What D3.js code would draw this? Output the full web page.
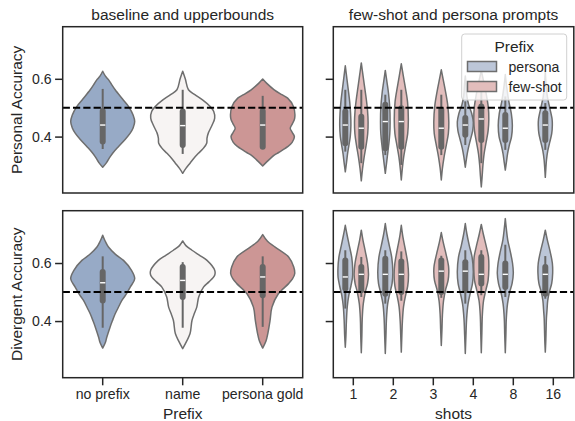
<!DOCTYPE html>
<html><head><meta charset="utf-8">
<script src="https://cdn.jsdelivr.net/npm/d3@7"></script>
<style>
body{margin:0;background:#fff}
svg{display:block}
text{font-family:"Liberation Sans",Arial,sans-serif;fill:#262626}
</style>
</head><body>
<svg id="chart" width="575" height="421"></svg>
<script>
// ---------------- DATA ----------------
const baselineCats = ["no prefix", "name", "persona gold"];
const shotCats = ["1", "2", "3", "4", "8", "16"];
const prefixHues = ["persona", "few-shot"];
const yTicks = [0.4, 0.6];
const chanceLevel = 0.5;

// violin outlines: [accuracy, relative density width]
const personalBaselineProfiles = [
  [[0.626,0],[0.61,0.08],[0.597,0.18],[0.58,0.28],[0.562,0.39],[0.53,0.62],[0.504,0.81],[0.475,0.95],[0.452,1.0],[0.43,0.95],[0.412,0.86],[0.39,0.7],[0.365,0.49],[0.345,0.33],[0.33,0.23],[0.31,0.12],[0.294,0]],
  [[0.626,0],[0.60,0.08],[0.562,0.18],[0.545,0.38],[0.527,0.62],[0.505,0.85],[0.487,0.97],[0.464,1.0],[0.44,0.92],[0.412,0.8],[0.395,0.76],[0.377,0.75],[0.36,0.65],[0.342,0.49],[0.325,0.35],[0.308,0.23],[0.29,0.1],[0.273,0]],
  [[0.599,0],[0.585,0.12],[0.562,0.36],[0.545,0.6],[0.533,0.78],[0.504,0.96],[0.464,1.0],[0.445,0.93],[0.429,0.86],[0.415,0.92],[0.4,0.99],[0.38,0.92],[0.365,0.78],[0.345,0.5],[0.336,0.36],[0.315,0.15],[0.298,0]]
];
const divergentBaselineProfiles = [
  [[0.696,0],[0.675,0.08],[0.655,0.18],[0.63,0.4],[0.609,0.65],[0.575,0.9],[0.546,1.0],[0.517,0.86],[0.49,0.72],[0.471,0.6],[0.445,0.48],[0.425,0.39],[0.4,0.3],[0.379,0.23],[0.345,0.13],[0.325,0.08],[0.307,0]],
  [[0.676,0],[0.66,0.1],[0.644,0.29],[0.625,0.55],[0.609,0.76],[0.575,1.0],[0.558,1.0],[0.535,0.82],[0.517,0.65],[0.483,0.5],[0.448,0.44],[0.425,0.36],[0.402,0.29],[0.357,0.23],[0.33,0.12],[0.305,0]],
  [[0.698,0],[0.675,0.15],[0.655,0.39],[0.621,0.81],[0.586,0.97],[0.563,1.0],[0.545,0.93],[0.529,0.81],[0.494,0.49],[0.448,0.29],[0.402,0.23],[0.357,0.16],[0.33,0.1],[0.307,0]]
];
// inner box: [lower whisker, q1, median, q3, upper whisker]
const personalBaselineBoxes = [
  [0.357,0.383,0.44,0.489,0.565],
  [0.34,0.371,0.438,0.487,0.562],
  [0.357,0.365,0.44,0.489,0.541]
];
const divergentBaselineBoxes = [
  [0.377,0.471,0.532,0.569,0.623],
  [0.377,0.483,0.54,0.586,0.603],
  [0.38,0.489,0.552,0.586,0.623]
];

// few-shot / persona panels
const personalShotViolins = [
  {shot:"1", hue:"persona", box:[0.348,0.377,0.44,0.487,0.562],
   profile:[[0.645,0],[0.6,0.2],[0.56,0.38],[0.52,0.55],[0.48,0.66],[0.44,0.7],[0.4,0.62],[0.37,0.45],[0.34,0.28],[0.31,0.15],[0.278,0]]},
  {shot:"1", hue:"few-shot", box:[0.308,0.365,0.429,0.469,0.562],
   profile:[[0.655,0],[0.61,0.22],[0.57,0.42],[0.53,0.62],[0.49,0.78],[0.45,0.85],[0.41,0.8],[0.37,0.6],[0.33,0.36],[0.29,0.16],[0.247,0]]},
  {shot:"2", hue:"persona", box:[0.336,0.36,0.452,0.51,0.545],
   profile:[[0.629,0],[0.59,0.2],[0.55,0.4],[0.5,0.56],[0.45,0.6],[0.41,0.56],[0.37,0.42],[0.33,0.25],[0.3,0.12],[0.273,0]]},
  {shot:"2", hue:"few-shot", box:[0.302,0.365,0.452,0.498,0.562],
   profile:[[0.652,0],[0.61,0.25],[0.57,0.5],[0.52,0.78],[0.46,0.88],[0.41,0.8],[0.37,0.55],[0.33,0.3],[0.29,0.13],[0.25,0]]},
  {shot:"3", hue:"few-shot", box:[0.336,0.365,0.429,0.493,0.545],
   profile:[[0.631,0],[0.6,0.22],[0.56,0.5],[0.51,0.8],[0.45,0.94],[0.41,0.88],[0.37,0.62],[0.33,0.35],[0.29,0.14],[0.25,0]]},
  {shot:"4", hue:"persona", box:[0.371,0.406,0.44,0.464,0.522],
   profile:[[0.61,0],[0.58,0.1],[0.54,0.2],[0.51,0.42],[0.48,0.8],[0.45,1.0],[0.42,0.92],[0.39,0.65],[0.36,0.38],[0.33,0.18],[0.294,0]]},
  {shot:"4", hue:"few-shot", box:[0.308,0.388,0.461,0.504,0.562],
   profile:[[0.628,0],[0.59,0.3],[0.55,0.6],[0.5,0.88],[0.46,0.94],[0.42,0.85],[0.38,0.6],[0.34,0.35],[0.3,0.2],[0.26,0.1],[0.226,0]]},
  {shot:"8", hue:"persona", box:[0.354,0.388,0.429,0.475,0.539],
   profile:[[0.615,0],[0.57,0.18],[0.52,0.45],[0.48,0.75],[0.44,0.88],[0.4,0.78],[0.37,0.5],[0.34,0.28],[0.31,0.13],[0.284,0]]},
  {shot:"16", hue:"persona", box:[0.354,0.388,0.44,0.481,0.516],
   profile:[[0.627,0],[0.58,0.1],[0.54,0.25],[0.5,0.55],[0.46,0.85],[0.44,0.88],[0.41,0.8],[0.38,0.55],[0.35,0.3],[0.32,0.15],[0.29,0.07],[0.259,0]]}
];
const divergentShotViolins = [
  {shot:"1", hue:"persona", box:[0.443,0.512,0.552,0.609,0.644],
   profile:[[0.73,0],[0.7,0.2],[0.66,0.5],[0.62,0.8],[0.58,0.92],[0.55,0.9],[0.52,0.7],[0.49,0.45],[0.45,0.25],[0.4,0.14],[0.35,0.08],[0.31,0]]},
  {shot:"1", hue:"few-shot", box:[0.483,0.506,0.561,0.586,0.621],
   profile:[[0.713,0],[0.68,0.2],[0.64,0.5],[0.6,0.78],[0.56,0.9],[0.53,0.78],[0.5,0.5],[0.46,0.25],[0.41,0.12],[0.35,0.07],[0.291,0]]},
  {shot:"2", hue:"persona", box:[0.46,0.494,0.561,0.615,0.644],
   profile:[[0.736,0],[0.7,0.2],[0.66,0.5],[0.62,0.8],[0.57,0.94],[0.53,0.85],[0.5,0.6],[0.46,0.3],[0.41,0.15],[0.35,0.08],[0.288,0]]},
  {shot:"2", hue:"few-shot", box:[0.47,0.5,0.561,0.605,0.64],
   profile:[[0.73,0],[0.69,0.2],[0.65,0.48],[0.6,0.8],[0.56,0.9],[0.52,0.8],[0.49,0.55],[0.45,0.28],[0.4,0.14],[0.35,0.07],[0.293,0]]},
  {shot:"3", hue:"few-shot", box:[0.48,0.5,0.572,0.609,0.625],
   profile:[[0.705,0],[0.67,0.25],[0.63,0.6],[0.59,0.9],[0.57,0.94],[0.54,0.85],[0.51,0.55],[0.47,0.28],[0.42,0.14],[0.37,0.08],[0.316,0]]},
  {shot:"4", hue:"persona", box:[0.46,0.506,0.572,0.603,0.644],
   profile:[[0.736,0],[0.7,0.2],[0.66,0.5],[0.62,0.85],[0.57,1.0],[0.53,0.9],[0.5,0.65],[0.46,0.35],[0.41,0.17],[0.35,0.08],[0.288,0]]},
  {shot:"4", hue:"few-shot", box:[0.489,0.529,0.561,0.621,0.644],
   profile:[[0.733,0],[0.7,0.25],[0.66,0.6],[0.62,0.9],[0.58,0.94],[0.54,0.85],[0.51,0.6],[0.47,0.28],[0.42,0.13],[0.36,0.07],[0.291,0]]},
  {shot:"8", hue:"persona", box:[0.483,0.517,0.561,0.598,0.663],
   profile:[[0.753,0],[0.72,0.12],[0.68,0.3],[0.64,0.62],[0.6,0.9],[0.565,1.0],[0.53,0.85],[0.5,0.55],[0.46,0.28],[0.41,0.13],[0.35,0.07],[0.291,0]]},
  {shot:"16", hue:"persona", box:[0.477,0.494,0.561,0.586,0.624],
   profile:[[0.713,0],[0.68,0.25],[0.64,0.6],[0.6,0.88],[0.565,0.92],[0.53,0.8],[0.5,0.5],[0.47,0.3],[0.44,0.22],[0.41,0.14],[0.37,0.1],[0.33,0.06],[0.293,0]]}
];

const baselineColors = ["#97aac6", "#f7f4f3", "#cc9695"];
const hueColors = {"persona": "#bcc6d8", "few-shot": "#e2bdbc"};

// ---------------- LAYOUT ----------------
const svg = d3.select("#chart");
const cols = [{x0: 62.7, x1: 302.7}, {x0: 333.3, x1: 573.8}];
const rows = [{y0: 26.7, y1: 193}, {y0: 210.7, y1: 377.7}];
const yDomain = [0.2048, 0.7803];
const edge = "#6e6e6e";
const tickLen = 7.6, tickPad = 3.4;
const labelSize = "15.5px", tickSize = "14.1px";

function drawViolin(g, cx, halfW, profile, box, fill, y) {
  const area = d3.area()
    .curve(d3.curveCatmullRom.alpha(0.5))
    .y(d => y(d[0]))
    .x0(d => cx - halfW * d[1])
    .x1(d => cx + halfW * d[1]);
  g.append("path").attr("d", area(profile))
    .attr("fill", fill).attr("stroke", edge).attr("stroke-width", 1.5)
    .attr("stroke-linejoin", "round");
  const [wlo, q1, med, q3, whi] = box;
  g.append("line").attr("x1", cx).attr("x2", cx).attr("y1", y(wlo)).attr("y2", y(whi))
    .attr("stroke", "#666").attr("stroke-width", 2);
  g.append("line").attr("x1", cx).attr("x2", cx).attr("y1", y(q1)).attr("y2", y(q3))
    .attr("stroke", "#666").attr("stroke-width", 6).attr("stroke-linecap", "round");
  g.append("line").attr("x1", cx - 2.6).attr("x2", cx + 2.6).attr("y1", y(med)).attr("y2", y(med))
    .attr("stroke", "#fff").attr("stroke-width", 1.4);
}

function styleAxis(ax) {
  ax.select(".domain").remove();
  ax.selectAll(".tick line").attr("stroke", "#262626").attr("stroke-width", 1.5);
  ax.selectAll(".tick text").style("font-size", tickSize).attr("fill", "#262626")
    .style("font-family", "'Liberation Sans', Arial, sans-serif");
}

rows.forEach((row, ri) => {
  const y = d3.scaleLinear().domain(yDomain).range([row.y1, row.y0]);
  const isBottom = ri === 1;

  // ---- left panel (baseline) ----
  const xl = d3.scaleBand().domain(baselineCats).range([cols[0].x0, cols[0].x1]).padding(0);
  const gl = svg.append("g");
  const profiles = ri === 0 ? personalBaselineProfiles : divergentBaselineProfiles;
  const boxes = ri === 0 ? personalBaselineBoxes : divergentBaselineBoxes;
  baselineCats.forEach((c, i) => {
    drawViolin(gl, xl(c) + xl.bandwidth() / 2, xl.bandwidth() * 0.4, profiles[i], boxes[i], baselineColors[i], y);
  });

  // ---- right panel (shots) ----
  const xr = d3.scaleBand().domain(shotCats).range([cols[1].x0, cols[1].x1 - 0.5]).padding(0);
  const xh = d3.scaleBand().domain(prefixHues).range([xr.bandwidth() * 0.1, xr.bandwidth() * 0.9]);
  const gr = svg.append("g");
  const vs = ri === 0 ? personalShotViolins : divergentShotViolins;
  vs.forEach(v => {
    const cx = xr(v.shot) + xh(v.hue) + xh.bandwidth() / 2;
    drawViolin(gr, cx, xh.bandwidth() / 2, v.profile, v.box, hueColors[v.hue], y);
  });

  // dashed chance line and frames
  cols.forEach((col, ci) => {
    svg.append("line").attr("x1", col.x0).attr("x2", col.x1)
      .attr("y1", y(chanceLevel)).attr("y2", y(chanceLevel))
      .attr("stroke", "#000").attr("stroke-width", 1.9).attr("stroke-dasharray", "7.2,3.1");
    svg.append("rect").attr("x", col.x0).attr("y", row.y0)
      .attr("width", col.x1 - col.x0).attr("height", row.y1 - row.y0)
      .attr("fill", "none").attr("stroke", "#262626").attr("stroke-width", 1.5);
    const ay = svg.append("g").attr("transform", `translate(${col.x0},0)`)
      .call(d3.axisLeft(y).tickValues(yTicks).tickSize(tickLen).tickPadding(tickPad)
        .tickFormat(ci === 0 ? d3.format(".1f") : () => ""));
    styleAxis(ay);
  });

  if (isBottom) {
    const axl = svg.append("g").attr("transform", `translate(0,${row.y1})`)
      .call(d3.axisBottom(xl).tickSize(tickLen).tickPadding(tickPad));
    styleAxis(axl);
    const axr = svg.append("g").attr("transform", `translate(0,${row.y1})`)
      .call(d3.axisBottom(xr).tickSize(tickLen).tickPadding(tickPad));
    styleAxis(axr);
  }

  // y label
  svg.append("text")
    .attr("transform", `translate(22,${(row.y0 + row.y1) / 2}) rotate(-90)`)
    .attr("text-anchor", "middle").style("font-size", labelSize)
    .text(ri === 0 ? "Personal Accuracy" : "Divergent Accuracy");
});

// titles
svg.append("text").attr("x", (cols[0].x0 + cols[0].x1) / 2).attr("y", 19.5)
  .attr("text-anchor", "middle").style("font-size", labelSize).text("baseline and upperbounds");
svg.append("text").attr("x", (cols[1].x0 + cols[1].x1) / 2).attr("y", 19.5)
  .attr("text-anchor", "middle").style("font-size", labelSize).text("few-shot and persona prompts");
// x labels
svg.append("text").attr("x", (cols[0].x0 + cols[0].x1) / 2).attr("y", 419.3)
  .attr("text-anchor", "middle").style("font-size", labelSize).text("Prefix");
svg.append("text").attr("x", (cols[1].x0 + cols[1].x1) / 2).attr("y", 419.3)
  .attr("text-anchor", "middle").style("font-size", labelSize).text("shots");

// legend
const lg = svg.append("g");
lg.append("rect").attr("x", 461.7).attr("y", 34).attr("width", 105).attr("height", 66)
  .attr("rx", 3).attr("fill", "#fff").attr("fill-opacity", 0.8)
  .attr("stroke", "#d0d0d0").attr("stroke-width", 1);
lg.append("text").attr("x", 514.2).attr("y", 51.5).attr("text-anchor", "middle")
  .style("font-size", labelSize).text("Prefix");
prefixHues.forEach((h, i) => {
  const yy = 61.5 + i * 20;
  lg.append("rect").attr("x", 467.5).attr("y", yy).attr("width", 29).attr("height", 10)
    .attr("fill", hueColors[h]).attr("stroke", edge).attr("stroke-width", 1.5);
  lg.append("text").attr("x", 508.5).attr("y", yy + 10).style("font-size", tickSize).text(h);
});
</script>
</body></html>
